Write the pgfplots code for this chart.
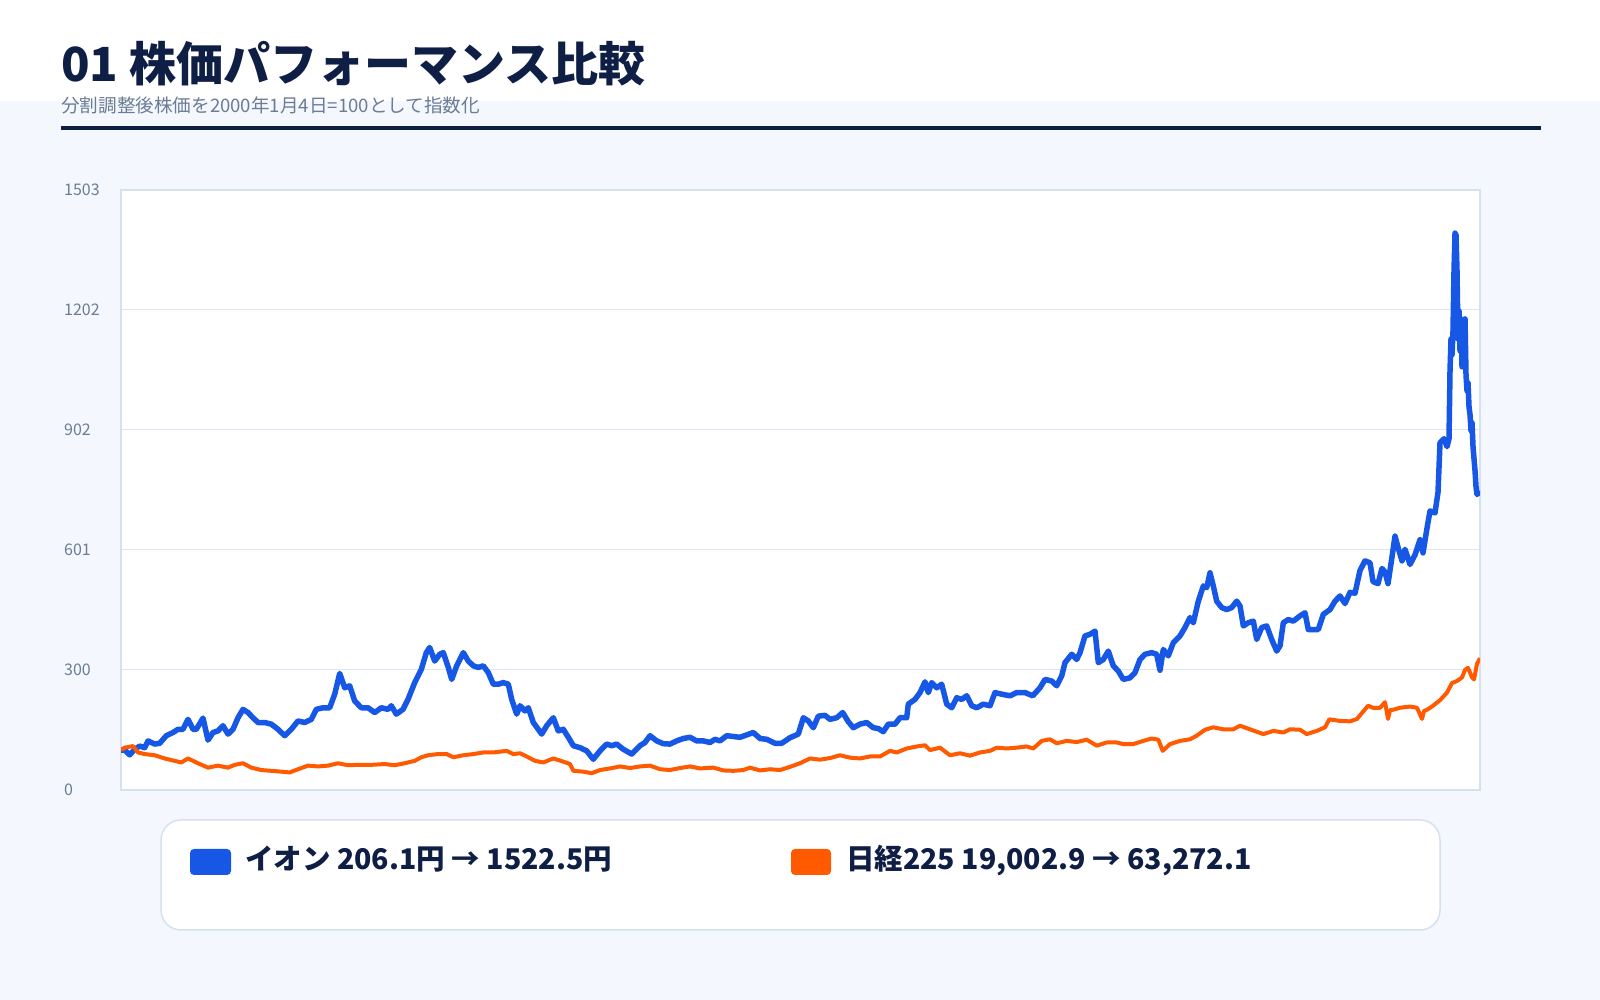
\documentclass[border=0pt]{standalone}
\usepackage{fontspec}
\usepackage{pgfplots}
\pgfplotsset{compat=1.18}
\newfontfamily\jp{Noto Sans CJK JP}
\definecolor{bgc}{HTML}{F4F8FE}
\definecolor{navy}{HTML}{0E1E45}
\definecolor{subc}{HTML}{6B7C93}
\definecolor{tickc}{HTML}{6B7C93}
\definecolor{framec}{HTML}{D5E1EF}
\definecolor{gridc}{HTML}{DCE6F1}
\definecolor{aeon}{HTML}{1657E6}
\definecolor{nikkei}{HTML}{FF5A00}
\begin{document}
\begin{tikzpicture}[x=1pt,y=1pt]
\fill[bgc] (0,0) rectangle (1600,1000);
\fill[white] (0,899) rectangle (1600,1000);
\node[anchor=base west,inner sep=0pt,text=navy,font=\jp\bfseries\fontsize{47}{50}\selectfont] at (61,918) {01 株価パフォーマンス比較};
\node[anchor=base west,inner sep=0pt,text=subc,font=\jp\fontsize{18.6}{20}\selectfont] at (61,887) {分割調整後株価を2000年1月4日=100として指数化};
\draw[navy,line width=3.5pt] (61,872) -- (1541,872);
\begin{axis}[
  at={(121pt,210pt)}, anchor=south west,
  scale only axis, width=1359pt, height=600pt,
  xmin=121, xmax=1480, ymin=0, ymax=1503,
  xtick=\empty,
  ytick={0,300.6,601.2,901.8,1202.4,1503},
  yticklabels={0,300,601,902,1202,1503},
  ymajorgrids, grid style={color=gridc,line width=1pt},
  axis line style={color=framec,line width=2pt},
  major tick length=0pt,
  axis background/.style={fill=white},
  /pgf/number format/assume math mode=true,
  yticklabel style={anchor=west,inner sep=0pt,xshift=-57pt,text=tickc,font=\jp\fontsize{16}{16}\selectfont},
  clip=true,
]
\addplot[color=aeon,line width=5.5pt,line join=round] table {
121 100
124.7 100
129.7 88
134.7 102
139.7 110
144.7 106
148 123
154.7 115
159.7 117
166.3 136
173 144
178 152
183 152
188 177
193 152
196.3 152
203 180
208 125
213 144
218 148
223 161
228 140
233 152
238 181
243 202
248 194
253 181
258 169
264.7 169
271.3 165
278 152
284.7 136
291.3 152
298 173
304.7 169
311.3 177
316.3 202
323 206
329.7 206
334.7 240
339.7 292
344.7 256
349.7 261
354.7 223
361.3 206
368 206
374.7 194
381.3 206
388 202
391.3 211
396.3 190
403 202
408 227
414.7 269
421.3 302
426.3 344
429.7 357
434.7 323
439.7 340
443.3 344
448.3 307
451.7 277
456.7 311
463.3 344
468.3 323
473.3 311
478.3 307
483.3 311
488.3 294
493.3 265
498.3 265
503.3 269
508.3 265
511.7 227
516.7 190
520 211
525 198
528.3 206
533.3 169
538.3 152
541.7 140
546.7 161
553.3 181
558.3 148
563.3 152
568.3 132
573.3 111
580 106
586.7 98
593.3 77
600 98
606.7 115
611.7 111
616.7 115
623.3 102
631.7 90
640 111
645 119
650 136
656.7 123
663.3 116
670 115
676.7 123
683.3 129
690 132
696.7 123
703.3 123
710 119
715 127
720 123
726.7 136
733.3 134
740 132
746.7 138
753.3 144
760 129
766.7 127
775 117
781.7 117
790 131
798.3 140
803.3 181
808.3 173
813.3 156
818.3 185
825 187
830 177
836.7 181
842.7 194
848.3 171
853.3 156
860 165
866.7 169
873.3 156
878.3 154
883.3 146
888.3 165
895 165
900 181
906.7 181
908.3 215
915 227
920 244
925 271
928.3 244
931.7 269
936.7 256
941.7 265
946.7 215
951.7 206
956.7 231
961.7 227
966.7 236
971.7 211
976.7 206
983.3 215
990 211
995 244
1001.7 240
1010 236
1016.7 244
1025 244
1032.7 236
1040 256
1045 277
1051.7 273
1056.7 261
1061.7 286
1065 319
1071.7 340
1076.7 327
1080 344
1085 386
1090 390
1095 398
1098.3 319
1103.3 327
1108.3 348
1113.3 311
1118.3 298
1123.3 277
1130 281
1135 294
1140 327
1145 340
1151.7 344
1156.7 340
1160 300
1163.3 352
1168.3 336
1173.3 369
1180 386
1185 407
1190 432
1193.3 419
1198.3 473
1203.3 511
1206.7 507
1210 544
1213.3 511
1216.7 473
1221.7 457
1226.7 452
1231.7 457
1236.7 473
1240 461
1243.3 411
1248.3 419
1253.3 423
1256.7 377
1261.7 407
1266.7 411
1271.7 377
1276.7 348
1280 361
1283.3 419
1288.3 427
1293.3 423
1300 436
1305 444
1308.3 402
1313.3 402
1318.3 402
1323.3 440
1330 452
1335 473
1340 486
1345 467
1350 495
1355 493
1360 550
1365 574
1370 569
1373 522
1378 517
1382 555
1385 546
1388 517
1392 584
1395 636
1398 608
1402 574
1405 603
1410 565
1415 589
1420 627
1423 594
1427 656
1430 699
1435 694
1438 746
1440 870
1444 880
1447 860
1449 880
1450 1050
1451 1130
1452 1090
1453 1150
1454 1300
1455 1395
1456 1390
1457 1300
1458 1130
1459 1200
1460 1100
1461 1180
1462 1060
1463 1160
1464 1120
1465 1180
1466 1040
1467 1000
1468 1020
1469 960
1470 940
1471 900
1472 920
1473 860
1475 800
1476 760
1477 740
1478 745
1480 738
};
\addplot[color=nikkei,line width=4pt,line join=round] table {
121 100
124.7 106
133 110
138 94
144.7 90
154.7 87
164.7 79
174.7 73
181.3 69
188 79
198 67
208 56
218 61
228 56
234.7 63
243 67
251.3 56
261.3 50
271.3 48
281.3 46
289.7 44
298 52
308 61
318 59
328 61
338 67
348 62
358 63
371.3 63
384.7 65
394.7 62
404.7 67
414.7 73
421.3 82
428 87
438 90
446.7 90
453.3 82
463.3 87
473.3 90
483.3 94
493.3 94
506.7 98
513.3 90
520 92
526.7 84
535 73
543.3 69
553.3 79
563.3 71
570 65
573.3 48
583.3 46
591.7 42
600 50
610 54
620 59
630 55
640 59
650 61
660 52
670 50
680 55
690 59
700 54
713.3 56
723.3 49
733.3 48
743.3 50
750 56
760 49
770 52
780 50
790 58
800 67
810 79
820 76
830 80
840 87
850 81
860 79
870 84
880 84
890 98
896.7 94
906.7 104
916.7 109
925 112
930 100
940 106
950 87
960 92
970 86
980 94
990 98
996.7 106
1006.7 104
1016.7 106
1026.7 109
1033.3 104
1041.7 123
1050 127
1056.7 117
1066.7 123
1076.7 120
1086.7 126
1096.7 111
1106.7 119
1116.7 119
1123.3 115
1133.3 115
1143.3 123
1151.7 129
1158.3 126
1162.7 98
1170 115
1180 123
1190 127
1196.7 136
1205 151
1213.3 157
1223.3 152
1233.3 152
1240 161
1250 152
1263.3 140
1273.3 148
1283.3 144
1290 152
1300 151
1306.7 140
1316.7 148
1325 157
1329.3 177
1340 173
1350 172
1357 178
1363 196
1368 211
1373 206
1380 206
1385 220
1388 178
1390 200
1393 201
1400 206
1410 209
1417 206
1422 178
1424 198
1427 201
1433 211
1440 225
1447 244
1452 268
1457 273
1462 282
1465 301
1468 306
1472 282
1474 277
1477 316
1480 330
};
\end{axis}
\filldraw[fill=white,draw=framec,line width=1.5pt,rounded corners=20pt] (161,180) rectangle (1440,70);
\fill[aeon,rounded corners=4pt] (190,151) rectangle (231,125);
\node[anchor=base west,inner sep=0pt,text=navy,font=\jp\bfseries\fontsize{28.5}{30}\selectfont] at (245,130) {イオン 206.1円 → 1522.5円};
\fill[nikkei,rounded corners=4pt] (791,151) rectangle (831,125);
\node[anchor=base west,inner sep=0pt,text=navy,font=\jp\bfseries\fontsize{28.5}{30}\selectfont] at (846,130) {日経225 19,002.9 → 63,272.1};
\end{tikzpicture}
\end{document}
